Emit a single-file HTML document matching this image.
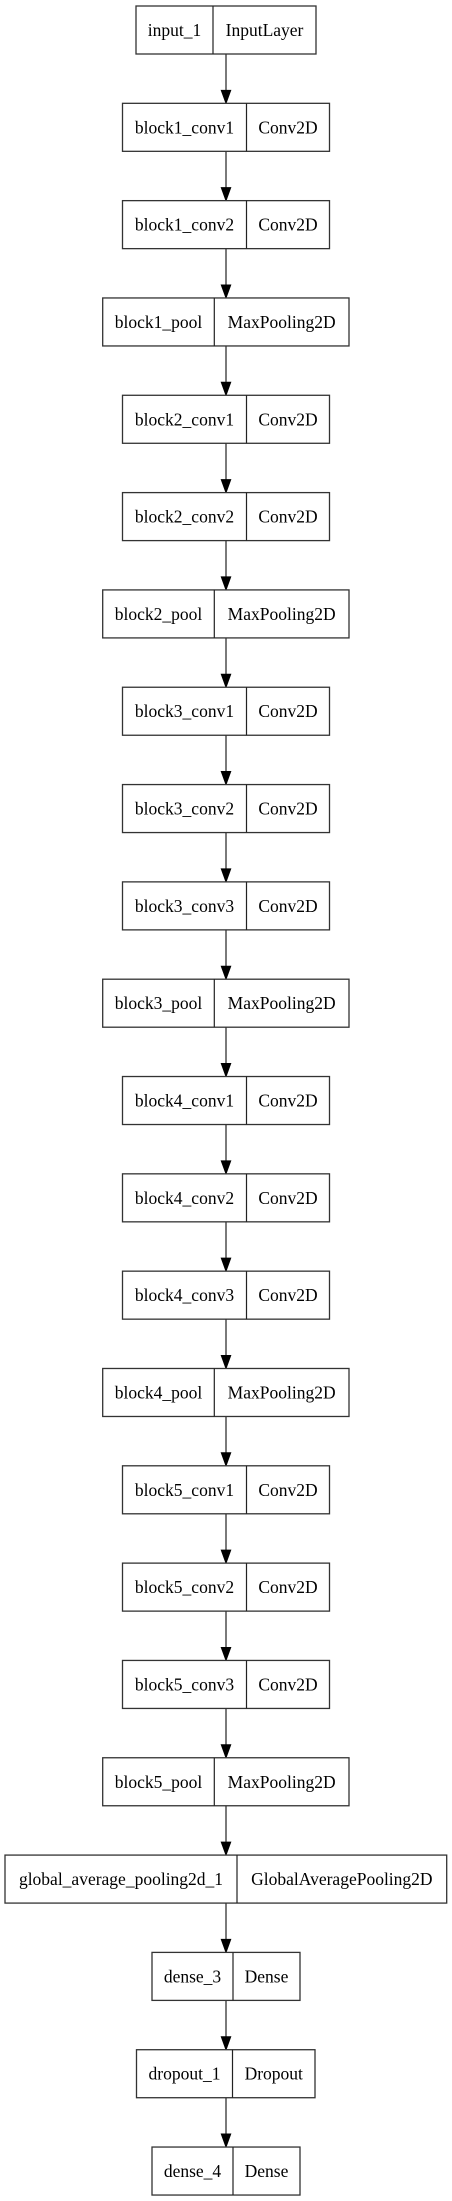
<!DOCTYPE html>
<html><head><meta charset="utf-8"><style>html,body{margin:0;padding:0;background:#fff;}svg{display:block}</style></head>
<body>
<svg xmlns="http://www.w3.org/2000/svg" width="452" height="2201" viewBox="0 0 452 2201" font-family="Liberation Serif, serif" font-size="17.5">
<g id="g"></g>
</svg>
<script>
const T={conv:[122.5,246.5,329.5],pool:[102.7,214.3,349],input:[136,213,316],global:[5,237,446.7],dense:[152,233,300],drop:[136.5,232.5,315]};
const N=[["input_1","InputLayer","input"],
["block1_conv1","Conv2D","conv"],["block1_conv2","Conv2D","conv"],["block1_pool","MaxPooling2D","pool"],
["block2_conv1","Conv2D","conv"],["block2_conv2","Conv2D","conv"],["block2_pool","MaxPooling2D","pool"],
["block3_conv1","Conv2D","conv"],["block3_conv2","Conv2D","conv"],["block3_conv3","Conv2D","conv"],["block3_pool","MaxPooling2D","pool"],
["block4_conv1","Conv2D","conv"],["block4_conv2","Conv2D","conv"],["block4_conv3","Conv2D","conv"],["block4_pool","MaxPooling2D","pool"],
["block5_conv1","Conv2D","conv"],["block5_conv2","Conv2D","conv"],["block5_conv3","Conv2D","conv"],["block5_pool","MaxPooling2D","pool"],
["global_average_pooling2d_1","GlobalAveragePooling2D","global"],["dense_3","Dense","dense"],["dropout_1","Dropout","drop"],["dense_4","Dense","dense"]];
let s="";const P=97.32,H=48,cx=226;
N.forEach((n,i)=>{const y=6+P*i;const [a,d,b]=T[n[2]];
s+=`<rect x="${a}" y="${y}" width="${b-a}" height="${H}" fill="#fff" stroke="#333" stroke-width="1.3"/>`;
s+=`<line x1="${d}" y1="${y}" x2="${d}" y2="${y+H}" stroke="#222" stroke-width="1.2"/>`;
s+=`<text x="${(a+d)/2}" y="${y+30}" text-anchor="middle">${n[0]}</text>`;
s+=`<text x="${(d+b)/2}" y="${y+30}" text-anchor="middle">${n[1]}</text>`;
if(i<N.length-1){const y1=y+H,y2=6+P*(i+1);
s+=`<line x1="${cx}" y1="${y1}" x2="${cx}" y2="${y2-12}" stroke="#333" stroke-width="1.3"/>`;
s+=`<polygon points="${cx-4.7},${y2-13} ${cx+4.7},${y2-13} ${cx},${y2}" fill="#000" stroke="#000" stroke-width="1"/>`;}
});
document.getElementById("g").innerHTML=s;
</script>
</body></html>
